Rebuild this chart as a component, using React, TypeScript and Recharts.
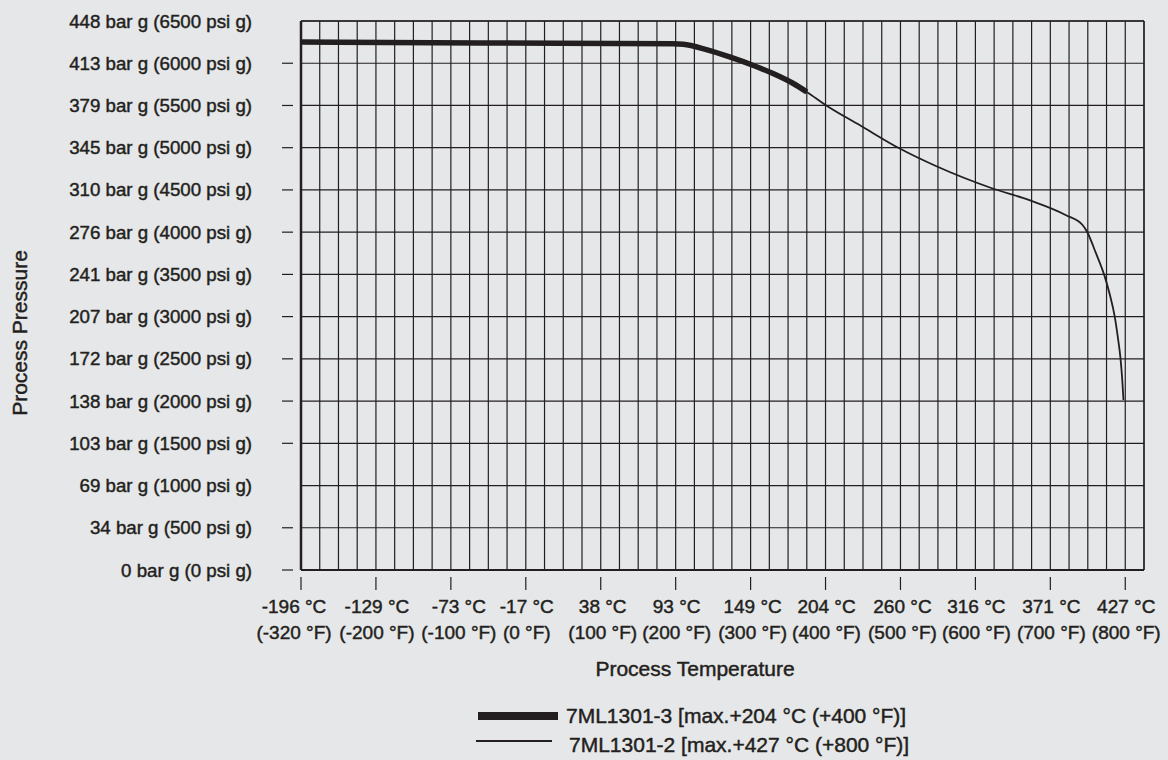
import { CartesianGrid, Legend, Line, LineChart, ReferenceLine, XAxis, YAxis } from "recharts";

const tempTicksC = ["-196", "-129", "-73", "-17", "38", "93", "149", "204", "260", "316", "371", "427"];
const tempTicksF = ["-320", "-200", "-100", "0", "100", "200", "300", "400", "500", "600", "700", "800"];
const pressureTicksPsi = [0, 500, 1000, 1500, 2000, 2500, 3000, 3500, 4000, 4500, 5000, 5500, 6000, 6500];
const pressureTicksBar = [0, 34, 69, 103, 138, 172, 207, 241, 276, 310, 345, 379, 413, 448];
const psiWithoutDash = [1000, 6500];

// 7ML1301-3 (thick), temperature in °F, pressure in psi g
const thickTempF = [-320, -61, 196, 210, 241, 272, 303, 330, 357, 375];
const thickPsi = [6250, 6240, 6230, 6225, 6162, 6075, 5976, 5878, 5760, 5660];

// 7ML1301-2 (thin)
const thinTempF = [-320, -61, 196, 210, 241, 272, 303, 330, 357, 375, 401, 446, 499, 548, 623, 672, 721, 743, 749, 761, 772, 779, 786, 790, 793.7, 796, 797.6];
const thinPsi = [6250, 6240, 6230, 6225, 6162, 6075, 5976, 5878, 5760, 5660, 5500, 5265, 4990, 4780, 4517, 4379, 4201, 4085, 4005, 3748, 3491, 3274, 2997, 2761, 2500, 2250, 2012];

const INK = "#231f20";
const BG = "#e6e7e8";
const FONT = "'Liberation Sans', Arial, sans-serif";

document.body.style.margin = "0";

// the temperature axis is drawn with equal spacing per tick: first step is 120 °F, the rest 100 °F
const toPos = (f: number) => (f < -200 ? (f + 320) / 120 : 1 + (f + 200) / 100);

const thickData = thickTempF.map((t, i) => ({ pos: toPos(t), psi: thickPsi[i] }));
const thinData = thinTempF.map((t, i) => ({ pos: toPos(t), psi: thinPsi[i] }));
const xTicks = tempTicksC.map((_, i) => i);
const gridX = Array.from({ length: 46 }, (_, i) => i * 0.25);

// small nudges so the two-line labels sit like in the print
const labelShift = [-7, 1, 8, 1, 2, 1, 2, 1, 2, 1, 1, 1];

const textStyle = { fill: INK, stroke: INK, strokeWidth: 0.45, fontFamily: FONT };

function XTick({ x, y, payload }: any) {
  const i = payload.value as number;
  const lx = x + (labelShift[i] ?? 0);
  return (
    <g>
      <line x1={x} x2={x} y1={y + 7} y2={y + 20} stroke={INK} strokeWidth={1.2} />
      <text x={lx} y={y + 43} textAnchor="middle" fontSize={19} {...textStyle}>
        {tempTicksC[i]} °C
      </text>
      <text x={lx} y={y + 69} textAnchor="middle" fontSize={19} {...textStyle}>
        ({tempTicksF[i]} °F)
      </text>
    </g>
  );
}

function YTick({ x, y, payload }: any) {
  const psi = payload.value as number;
  const bar = pressureTicksBar[pressureTicksPsi.indexOf(psi)];
  return (
    <g>
      {!psiWithoutDash.includes(psi) && <line x1={x - 19} x2={x - 8} y1={y} y2={y} stroke={INK} strokeWidth={1.2} />}
      <text x={x - 49} y={y + 6.5} textAnchor="end" fontSize={18.7} {...textStyle}>
        {bar} bar g ({psi} psi g)
      </text>
    </g>
  );
}

function LegendBox() {
  return (
    <svg width={500} height={65} style={{ display: "block" }}>
      <rect x={18} y={17} width={80} height={8} fill={INK} />
      <text x={106} y={28} fontSize={21} {...textStyle}>
        7ML1301-3 [max.+204 °C (+400 °F)]
      </text>
      <line x1={16} x2={92} y1={46} y2={46} stroke={INK} strokeWidth={2} />
      <text x={109} y={57} fontSize={21} {...textStyle}>
        7ML1301-2 [max.+427 °C (+800 °F)]
      </text>
    </svg>
  );
}

export default function App() {
  return (
    <div style={{ width: 1168, height: 760, background: BG, position: "relative", overflow: "hidden" }}>
      <LineChart width={1168} height={760} margin={{ top: 21, right: 24, bottom: 110, left: 0 }}>
        <CartesianGrid stroke={INK} strokeWidth={1.2} verticalValues={gridX} horizontalValues={pressureTicksPsi} />
        <XAxis
          dataKey="pos"
          type="number"
          domain={[0, 11.25]}
          ticks={xTicks}
          interval={0}
          height={80}
          tickSize={0}
          tickMargin={0}
          axisLine={false}
          tickLine={false}
          tick={<XTick />}
          label={() => (
            <text x={695} y={676} textAnchor="middle" fontSize={21} {...textStyle}>
              Process Temperature
            </text>
          )}
        />
        <YAxis
          type="number"
          domain={[0, 6500]}
          ticks={pressureTicksPsi}
          interval={0}
          width={301}
          tickSize={0}
          tickMargin={0}
          axisLine={false}
          tickLine={false}
          tick={<YTick />}
          label={() => (
            <text x={27} y={333} transform="rotate(-90 27 333)" textAnchor="middle" fontSize={21} {...textStyle}>
              Process Pressure
            </text>
          )}
        />
        <ReferenceLine x={0} stroke={INK} strokeWidth={2.5} />
        <ReferenceLine x={11.25} stroke={INK} strokeWidth={1.3} />
        <ReferenceLine y={0} stroke={INK} strokeWidth={2.2} />
        <ReferenceLine y={6500} stroke={INK} strokeWidth={1.3} />
        <Line
          data={thinData}
          dataKey="psi"
          type="monotone"
          stroke={INK}
          strokeWidth={1.8}
          dot={false}
          activeDot={false}
          isAnimationActive={false}
          name="7ML1301-2"
        />
        <Line
          data={thickData}
          dataKey="psi"
          type="monotone"
          stroke={INK}
          strokeWidth={5.5}
          dot={false}
          activeDot={false}
          isAnimationActive={false}
          name="7ML1301-3"
        />
        <Legend
          layout="horizontal"
          verticalAlign="middle"
          align="center"
          wrapperStyle={{ left: 460, top: 695, width: 500, height: 65 }}
          content={() => <LegendBox />}
        />
      </LineChart>
    </div>
  );
}
